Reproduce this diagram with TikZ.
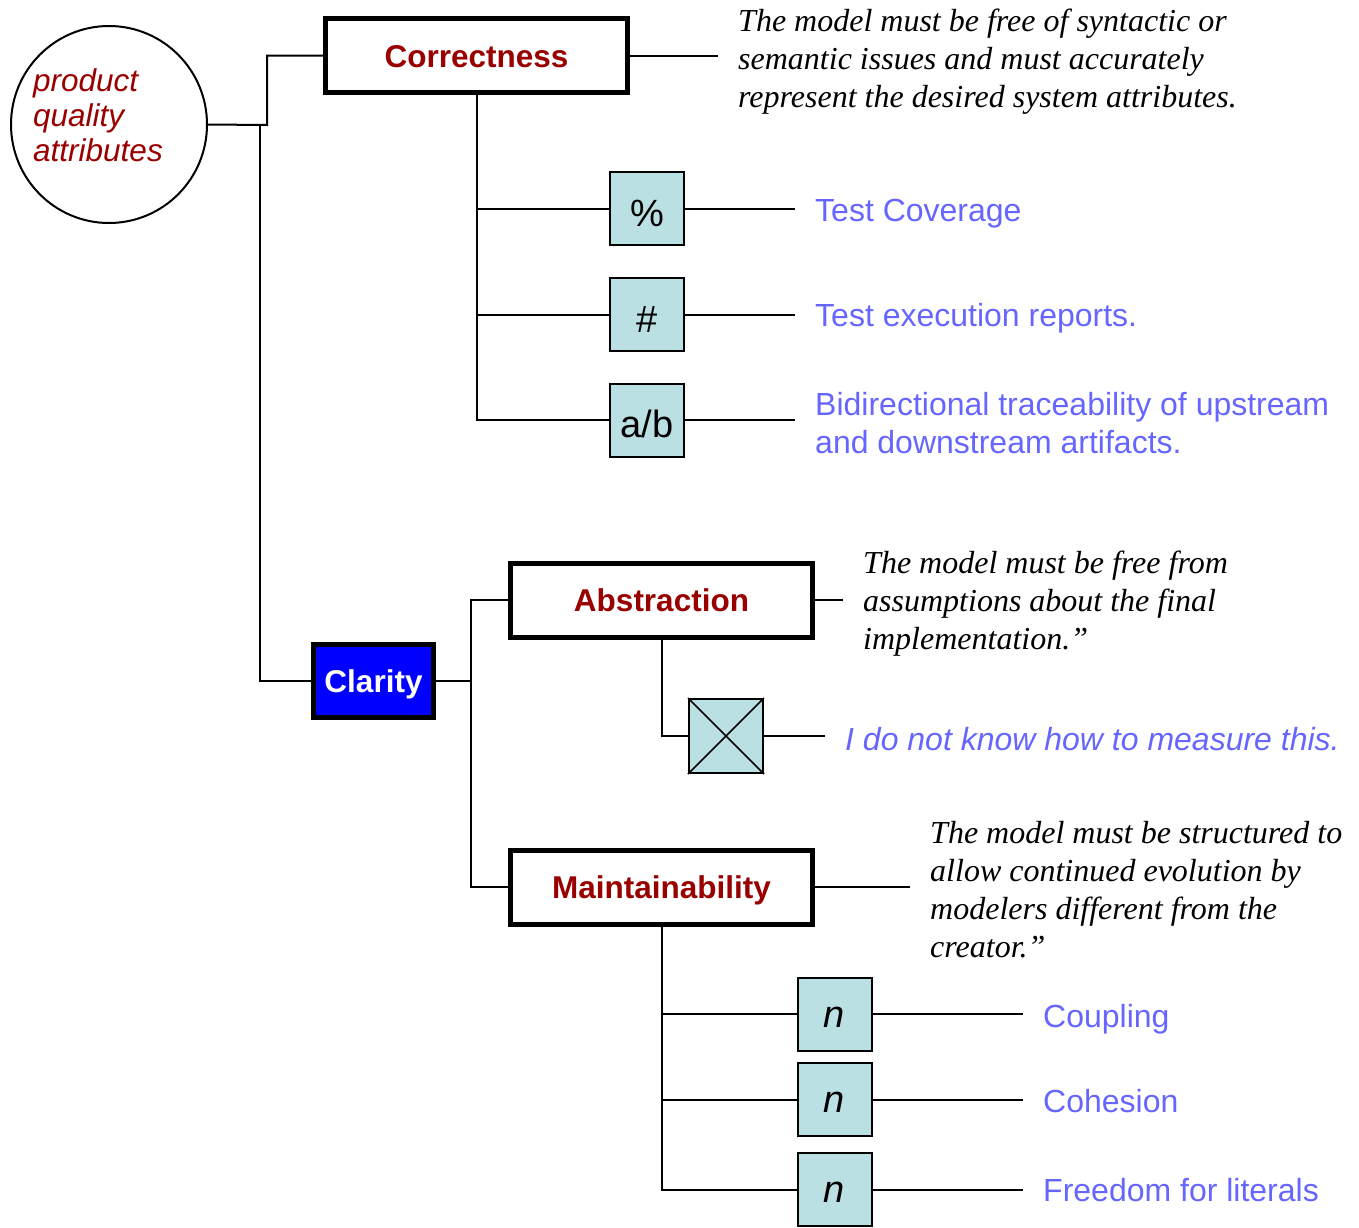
\documentclass[tikz,border=0pt]{standalone}
\usepackage{fontspec}
\setmainfont{Liberation Serif}
\newfontfamily\arial{Liberation Sans}
\usetikzlibrary{shapes.geometric}

\definecolor{dred}{RGB}{153,0,0}
\definecolor{mblue}{RGB}{102,102,255}
\definecolor{lblue}{RGB}{187,224,227}
\definecolor{pureblue}{RGB}{0,0,255}

\tikzset{
  wire/.style={line width=2pt, line join=miter},
  topic/.style={draw, line width=5pt, fill=white, inner sep=0pt,
    minimum width=302pt, minimum height=74pt, text=dred,
    text height=23pt, text depth=0pt,
    font=\arial\bfseries\fontsize{31.5}{36}\selectfont},
  metric/.style={draw, line width=2pt, fill=lblue, inner sep=0pt,
    minimum width=74pt, minimum height=73pt,
    text height=35pt, text depth=0pt,
    font=\arial\fontsize{38}{42}\selectfont},
  countbox/.style={metric, text height=26pt,
    font=\arial\itshape\fontsize{38}{42}\selectfont},
  lbl/.style={anchor=west, inner sep=0pt, align=left, text=mblue,
    font=\arial\fontsize{32}{38}\selectfont},
  one/.style={text height=23pt, text depth=0pt},
  note/.style={anchor=west, inner sep=0pt, align=left,
    font=\itshape\fontsize{32}{38}\selectfont},
  gap/.style={shorten >=20pt}
}

\begin{document}
\begin{tikzpicture}[x=1pt, y=-1pt]
\useasboundingbox (0,0) rectangle (1359,1227);

% root
\node[ellipse, draw, line width=2pt, minimum width=196pt, minimum height=197pt, inner sep=0pt] (pqa) at (109,124.5) {};
\node[anchor=west, inner sep=0pt, align=left, text=dred,
      font=\arial\itshape\fontsize{31.5}{35}\selectfont] (pqat) at (33,115) {product\\quality\\attributes};

% first level
\node[topic] (corr) at (476.5,55.5) {Correctness};
\node[draw, line width=5pt, fill=pureblue, text=white, inner sep=0pt,
      minimum width=120pt, minimum height=73pt, text height=23pt, text depth=0pt,
      font=\arial\bfseries\fontsize{31.5}{36}\selectfont] (clar) at (373.5,681) {Clarity};

\coordinate (j1) at (267,125);
\coordinate (j2) at (260,125);
\draw[wire] (pqa.east) -- (j1) |- (corr.west);
\draw[wire] (j2) |- (clar.west);

% correctness
\node[note] (cnote) at (738,62) {The model must be free of syntactic or\\semantic issues and must accurately\\represent the desired system attributes.};
\draw[wire, gap] (corr.east) -- (corr.east -| cnote.west);

\node[metric] (m1) at (647,208.5) {\%};
\node[metric] (m2) at (647,314.5) {\#};
\node[metric] (m3) at (647,420) {a/b};
\draw[wire] (corr.south) |- (m3.west);
\draw[wire] (corr.south |- m1.west) -- (m1.west);
\draw[wire] (corr.south |- m2.west) -- (m2.west);

\node[lbl, one] (t1) at (815,209.5) {Test Coverage};
\node[lbl, one] (t2) at (815,314.5) {Test execution reports.};
\node[lbl] (t3) at (815,423) {Bidirectional traceability of upstream\\and downstream artifacts.};
\draw[wire, gap] (m1.east) -- (m1.east -| t1.west);
\draw[wire, gap] (m2.east) -- (m2.east -| t2.west);
\draw[wire, gap] (m3.east) -- (m3.east -| t3.west);

% clarity
\node[topic] (abs) at (661.5,600) {Abstraction};
\node[topic] (mnt) at (661.5,887) {Maintainability};
\coordinate (cj) at (471,681);
\draw[wire] (clar.east) -- (cj);
\draw[wire] (abs.west) -| (cj) |- (mnt.west);

% abstraction
\node[note] (anote) at (863,604) {The model must be free from\\assumptions about the final\\implementation.”};
\draw[wire, gap] (abs.east) -- (abs.east -| anote.west);

\node[metric, minimum height=74pt] (xb) at (726,736) {};
\draw[line width=1.5pt] (xb.north west) -- (xb.south east);
\draw[line width=1.5pt] (xb.south west) -- (xb.north east);
\draw[wire] (abs.south) |- (xb.west);
\node[lbl, font=\arial\itshape\fontsize{32}{38}\selectfont] (xt) at (845,739) {I do not know how to measure this.};
\draw[wire, gap] (xb.east) -- (xb.east -| xt.west);

% maintainability
\node[note] (mnote) at (930,890) {The model must be structured to\\allow continued evolution by\\modelers different from the\\creator.”};
\draw[wire, gap] (mnt.east) -- (mnt.east -| mnote.west);

\node[countbox] (n1) at (834.5,1014) {n};
\node[countbox] (n2) at (834.5,1099.5) {n};
\node[countbox] (n3) at (834.5,1189.5) {n};
\draw[wire] (mnt.south) |- (n3.west);
\draw[wire] (mnt.south |- n1.west) -- (n1.west);
\draw[wire] (mnt.south |- n2.west) -- (n2.west);

\node[lbl, one] (u1) at (1043,1016) {Coupling};
\node[lbl, one] (u2) at (1043,1101) {Cohesion};
\node[lbl, one] (u3) at (1043,1190) {Freedom for literals};
\draw[wire, gap] (n1.east) -- (n1.east -| u1.west);
\draw[wire, gap] (n2.east) -- (n2.east -| u2.west);
\draw[wire, gap] (n3.east) -- (n3.east -| u3.west);
\end{tikzpicture}
\end{document}
